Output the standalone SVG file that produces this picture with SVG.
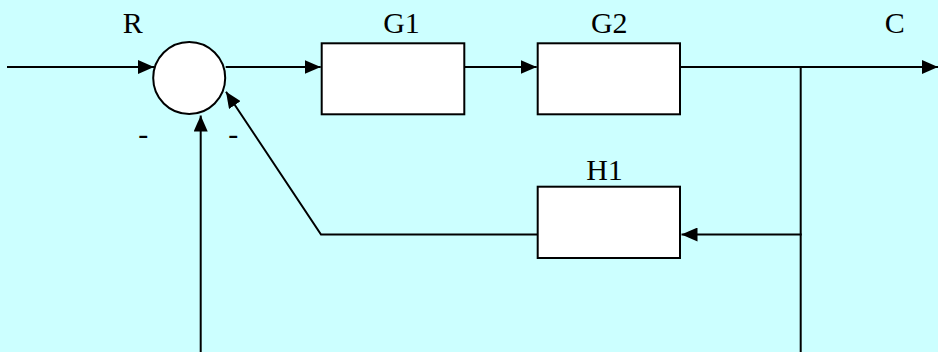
<svg xmlns="http://www.w3.org/2000/svg" width="938" height="352" viewBox="0 0 938 352">
  <style>
    .blk { fill: #ffffff; stroke: #000000; stroke-width: 2; }
    .ln { fill: none; stroke: #000000; stroke-width: 2; }
    .lbl { font-family: "Liberation Serif", "Times New Roman", serif; font-size: 30px; fill: #000000; }
  </style>
  <defs>
    <marker id="arr" markerUnits="userSpaceOnUse" markerWidth="16" markerHeight="14" refX="16" refY="7" orient="auto">
      <path d="M0,0 L16,7 L0,14 Z" fill="#000000"/>
    </marker>
  </defs>
  <rect x="0" y="0" width="938" height="352" fill="#ccffff"/>

  <g id="connectors">
    <line class="ln" x1="7" y1="67" x2="154" y2="67" marker-end="url(#arr)"/>
    <line class="ln" x1="225.7" y1="67" x2="320.7" y2="67" marker-end="url(#arr)"/>
    <line class="ln" x1="465" y1="67" x2="536.7" y2="67" marker-end="url(#arr)"/>
    <line class="ln" x1="681" y1="67" x2="938" y2="67" marker-end="url(#arr)"/>
    <line class="ln" x1="800.7" y1="66" x2="800.7" y2="352"/>
    <line class="ln" x1="801.7" y1="234.5" x2="681.5" y2="234.5" marker-end="url(#arr)"/>
    <polyline class="ln" points="537,234.5 321,234.5 226,91.7" marker-end="url(#arr)"/>
    <line class="ln" x1="200.7" y1="352" x2="200.7" y2="115.5" marker-end="url(#arr)"/>
  </g>

  <g id="sum">
    <circle class="blk" cx="189.2" cy="78" r="36"/>
    <text class="lbl" x="143.3" y="143.5" text-anchor="middle">-</text>
    <text class="lbl" x="233.3" y="143.5" text-anchor="middle">-</text>
  </g>
  <g id="R">
    <text class="lbl" x="132.7" y="33.3" text-anchor="middle">R</text>
  </g>
  <g id="G1">
    <rect class="blk" x="321.7" y="43.3" width="142.6" height="71"/>
    <text class="lbl" x="401.5" y="33.3" text-anchor="middle">G1</text>
  </g>
  <g id="G2">
    <rect class="blk" x="537.7" y="43.3" width="142.3" height="71"/>
    <text class="lbl" x="609.3" y="33.3" text-anchor="middle">G2</text>
  </g>
  <g id="H1">
    <rect class="blk" x="537.7" y="186.7" width="142.3" height="71.3"/>
    <text class="lbl" x="604.5" y="180" text-anchor="middle">H1</text>
  </g>
  <g id="C">
    <text class="lbl" x="894.7" y="33.3" text-anchor="middle">C</text>
  </g>
</svg>
